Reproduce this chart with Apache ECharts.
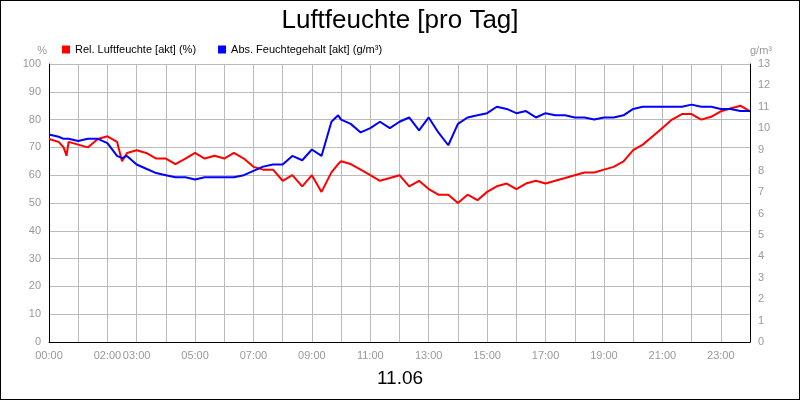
<!DOCTYPE html><html><head><meta charset="utf-8">
<script src="https://cdn.jsdelivr.net/npm/echarts@6/dist/echarts.min.js"></script>
<style>html,body{margin:0;padding:0}#c{width:798px;height:398px;border:1px solid #000}</style></head><body><div id="c"></div>
<script>
const hours=[0,0.33,0.5,0.6,0.67,1,1.33,1.67,2,2.33,2.5,2.67,3,3.33,3.67,4,4.33,4.67,5,5.33,5.67,6,6.33,6.67,7,7.33,7.67,8,8.33,8.67,9,9.33,9.67,9.9,10,10.33,10.67,11,11.33,11.67,12,12.33,12.67,13,13.33,13.67,14,14.33,14.67,15,15.33,15.67,16,16.33,16.67,17,17.33,17.67,18,18.33,18.67,19,19.33,19.67,20,20.33,20.67,21,21.33,21.67,22,22.33,22.67,23,23.33,23.67,24];
const relHum=[73,72,70,67,72,71,70,73,74,72,65,68,69,68,66,66,64,66,68,66,67,66,68,66,63,62,62,58,60,56,60,54,61,64,65,64,62,60,58,59,60,56,58,55,53,53,50,53,51,54,56,57,55,57,58,57,58,59,60,61,61,62,63,65,69,71,74,77,80,82,82,80,81,83,84,85,83];
const absHum=[9.7,9.6,9.5,9.5,9.5,9.4,9.5,9.5,9.3,8.7,8.6,8.7,8.3,8.1,7.9,7.8,7.7,7.7,7.6,7.7,7.7,7.7,7.7,7.8,8.0,8.2,8.3,8.3,8.7,8.5,9.0,8.7,10.3,10.6,10.4,10.2,9.8,10.0,10.3,10.0,10.3,10.5,9.9,10.5,9.8,9.2,10.2,10.5,10.6,10.7,11.0,10.9,10.7,10.8,10.5,10.7,10.6,10.6,10.5,10.5,10.4,10.5,10.5,10.6,10.9,11.0,11.0,11.0,11.0,11.0,11.1,11.0,11.0,10.9,10.9,10.8,10.8];
const tickLabels={0:'00:00',2:'02:00',3:'03:00',5:'05:00',7:'07:00',9:'09:00',11:'11:00',13:'13:00',15:'15:00',17:'17:00',19:'19:00',21:'21:00',23:'23:00'};
const ch=echarts.init(document.getElementById('c'));
const F='Arial, Liberation Sans, sans-serif';
const grey={color:'#999',fontSize:11,fontFamily:F};
ch.setOption({animation:false,backgroundColor:'#fff',
title:{text:'Luftfeuchte [pro Tag]',left:'center',top:2,textStyle:{fontSize:26,fontWeight:'normal',color:'#000',fontFamily:F}},
legend:{left:56,top:38,itemWidth:8,itemHeight:8,itemGap:22,icon:'rect',textStyle:{fontSize:11,color:'#000',fontFamily:F},data:['Rel. Luftfeuchte [akt] (%)','Abs. Feuchtegehalt [akt] (g/m³)']},
graphic:[{type:'text',left:'center',top:368,style:{text:'11.06',fontSize:19,fill:'#000',fontFamily:F}}],
grid:{left:48,right:49,top:63,bottom:57},
xAxis:{type:'value',min:0,max:24,interval:1,axisLine:{lineStyle:{color:'#000'}},axisTick:{show:false},
 splitLine:{lineStyle:{color:'#bbb'}},axisLabel:Object.assign({},grey,{formatter:v=>tickLabels[v]||'',showMaxLabel:false})},
yAxis:[{type:'value',min:0,max:100,interval:10,name:'%',nameGap:8,nameTextStyle:Object.assign({},grey,{align:'right',padding:[0,2,0,0]}),axisLine:{show:true,lineStyle:{color:'#000'}},axisTick:{show:false},splitLine:{lineStyle:{color:'#bbb'}},axisLabel:grey},
{type:'value',min:0,max:13,interval:1,name:'g/m³',nameGap:8,nameTextStyle:Object.assign({},grey,{align:'left'}),axisLine:{show:true,lineStyle:{color:'#000'}},axisTick:{show:false},splitLine:{show:false},axisLabel:grey}],
series:[{name:'Rel. Luftfeuchte [akt] (%)',type:'line',yAxisIndex:0,symbol:'none',color:'#ff0000',lineStyle:{width:2},data:hours.map((h,i)=>[h,relHum[i]])},
{name:'Abs. Feuchtegehalt [akt] (g/m³)',type:'line',yAxisIndex:1,symbol:'none',color:'#0000ff',lineStyle:{width:2},data:hours.map((h,i)=>[h,absHum[i]])}]});
</script></body></html>
